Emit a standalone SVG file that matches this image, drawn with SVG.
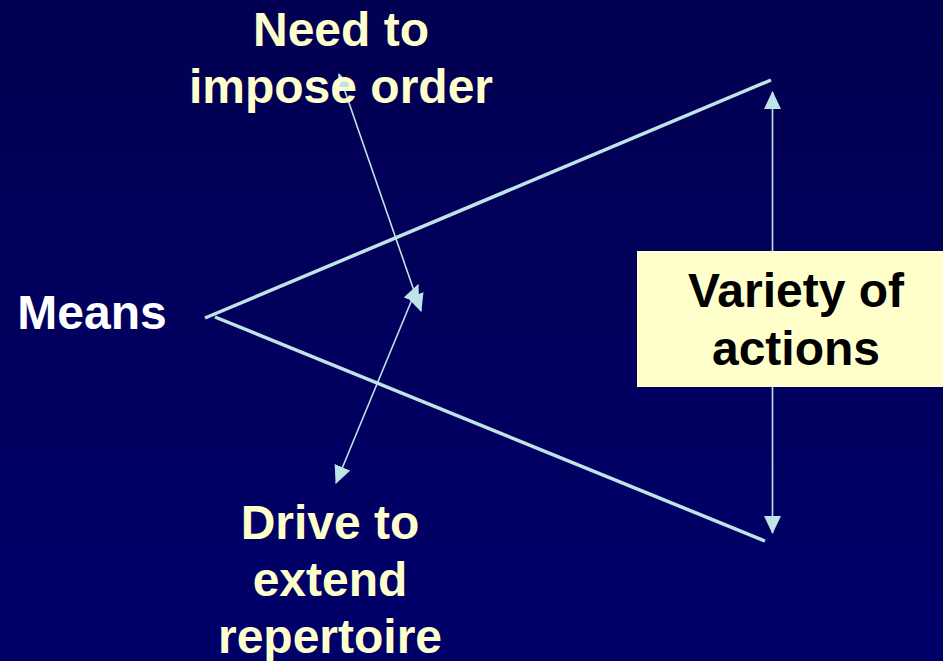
<svg xmlns="http://www.w3.org/2000/svg" width="943" height="661" viewBox="0 0 943 661">
<defs>
<linearGradient id="bg" x1="0" y1="0" x2="0" y2="1">
<stop offset="0" stop-color="#020050"/>
<stop offset="1" stop-color="#00006a"/>
</linearGradient>
<marker id="ah" markerUnits="userSpaceOnUse" markerWidth="18" markerHeight="17" refX="17" refY="8.5" orient="auto-start-reverse" viewBox="0 0 18 17">
<path d="M0,0 L18,8.5 L0,17 z" fill="#bfe4e8"/>
</marker>
</defs>
<style>
.t{font-family:"Liberation Sans",Arial,sans-serif;font-weight:bold;font-size:48px;text-anchor:middle}
.y{fill:#ffffcc}
.w{fill:#ffffff}
.k{fill:#000000}
.big{stroke:#bfe4e8;stroke-width:3.5;fill:none}
.arr{stroke:#bfe4e8;stroke-width:1.6;fill:none;marker-start:url(#ah);marker-end:url(#ah)}
</style>
<rect width="943" height="661" fill="url(#bg)"/>
<g id="connectors">
<line class="big" x1="205" y1="318" x2="771" y2="80"/>
<line class="big" x1="215" y1="317" x2="765" y2="541"/>
<line class="arr" x1="339" y1="74" x2="421" y2="311"/>
<line class="arr" x1="418" y1="285" x2="336" y2="483"/>
<line class="arr" x1="772.5" y1="92" x2="772.5" y2="533"/>
</g>
<g id="need">
<text class="t y" x="341" y="46">Need to</text>
<text class="t y" x="341" y="103">impose order</text>
</g>
<g id="means">
<text class="t w" x="92" y="329">Means</text>
</g>
<g id="drive">
<text class="t y" x="330" y="539">Drive to</text>
<text class="t y" x="330" y="596">extend</text>
<text class="t y" x="330" y="653">repertoire</text>
</g>
<g id="variety">
<rect x="637" y="251" width="310" height="136" fill="#ffffcc"/>
<text class="t k" x="796" y="307">Variety of</text>
<text class="t k" x="796" y="365">actions</text>
</g>
</svg>
